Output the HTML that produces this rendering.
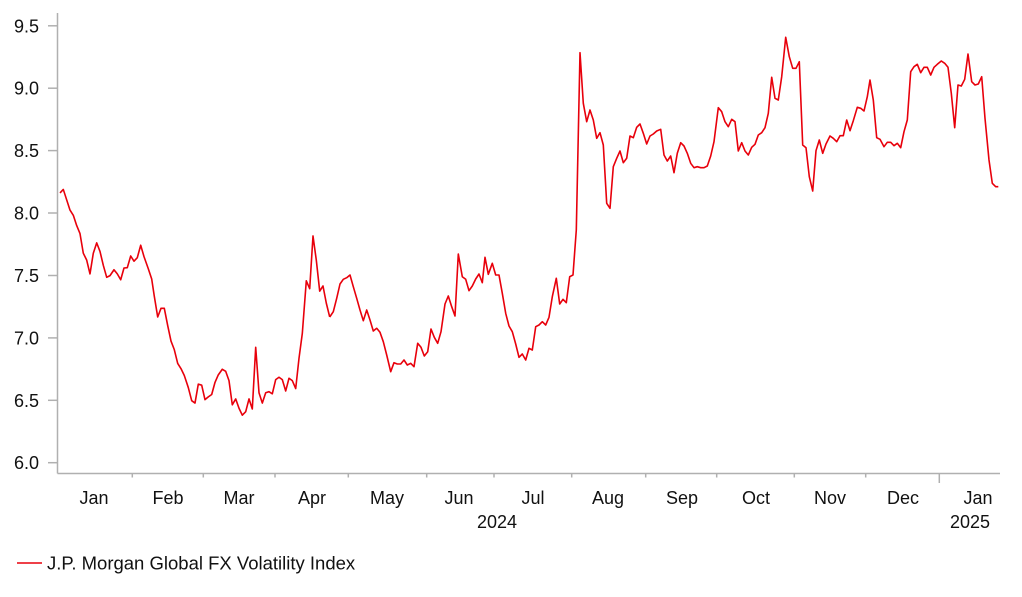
<!DOCTYPE html>
<html><head><meta charset="utf-8"><style>
html,body{margin:0;padding:0;background:#fff;}
svg{display:block;font-family:"Liberation Sans",Arial,sans-serif;}
</style></head><body>
<svg width="1022" height="597" viewBox="0 0 1022 597" xmlns="http://www.w3.org/2000/svg">
<g stroke="#b0b0b0" stroke-width="1.5" fill="none">
<line x1="57.5" y1="13" x2="57.5" y2="473.5"/>
<line x1="57.5" y1="473.5" x2="1000" y2="473.5"/>
<line x1="48" y1="25.8" x2="57" y2="25.8"/>
<line x1="48" y1="88.2" x2="57" y2="88.2"/>
<line x1="48" y1="150.6" x2="57" y2="150.6"/>
<line x1="48" y1="213" x2="57" y2="213"/>
<line x1="48" y1="275.5" x2="57" y2="275.5"/>
<line x1="48" y1="337.9" x2="57" y2="337.9"/>
<line x1="48" y1="400.3" x2="57" y2="400.3"/>
<line x1="48" y1="462.7" x2="57" y2="462.7"/>
<line x1="132.3" y1="473.5" x2="132.3" y2="477.5"/>
<line x1="203.3" y1="473.5" x2="203.3" y2="477.5"/>
<line x1="275" y1="473.5" x2="275" y2="477.5"/>
<line x1="348.3" y1="473.5" x2="348.3" y2="477.5"/>
<line x1="426.7" y1="473.5" x2="426.7" y2="477.5"/>
<line x1="494" y1="473.5" x2="494" y2="477.5"/>
<line x1="571.7" y1="473.5" x2="571.7" y2="477.5"/>
<line x1="645.7" y1="473.5" x2="645.7" y2="477.5"/>
<line x1="716.7" y1="473.5" x2="716.7" y2="477.5"/>
<line x1="794.3" y1="473.5" x2="794.3" y2="477.5"/>
<line x1="865.7" y1="473.5" x2="865.7" y2="477.5"/>
<line x1="939.3" y1="473.5" x2="939.3" y2="483"/>
</g>
<g font-size="18" fill="#111" text-anchor="end">
<text x="39" y="32.3">9.5</text>
<text x="39" y="94.7">9.0</text>
<text x="39" y="157.1">8.5</text>
<text x="39" y="219.5">8.0</text>
<text x="39" y="282">7.5</text>
<text x="39" y="344.4">7.0</text>
<text x="39" y="406.8">6.5</text>
<text x="39" y="469.2">6.0</text>
</g>
<g font-size="18" fill="#111" text-anchor="middle">
<text x="94" y="504">Jan</text>
<text x="168" y="504">Feb</text>
<text x="239" y="504">Mar</text>
<text x="312" y="504">Apr</text>
<text x="387" y="504">May</text>
<text x="459" y="504">Jun</text>
<text x="533" y="504">Jul</text>
<text x="608" y="504">Aug</text>
<text x="682" y="504">Sep</text>
<text x="756" y="504">Oct</text>
<text x="830" y="504">Nov</text>
<text x="903" y="504">Dec</text>
<text x="978" y="504">Jan</text>
<text x="497" y="528">2024</text>
<text x="970" y="528">2025</text>
</g>
<g transform="scale(1,1.0335)">
<polyline fill="none" stroke="#e8000b" stroke-width="1.6" stroke-linejoin="round" vector-effect="non-scaling-stroke" points="
60,186.7 63.3,183.3 70,203.3 73.3,208.3 76.7,218.3 80,226 83.3,245 86.7,251.7 90,265 93.3,245 96.7,235 100,243.3 103.3,256.7 106.7,268.3 110,266.7 114,261 117.3,265 120.7,270.7 124,259.3 127.3,259 130.7,247.7 134,252.7 137.3,249.3 140.7,237.3 144,248.3 148.3,260 151.7,270 154.3,286.7 157.7,306.7 161,298.3 164.3,298.3 167.7,315 171,330 174.3,338.3 177.7,351.7 181,356.7 184.3,363.3 188.3,375 191.7,387.7 195,390 198.3,371.7 201.7,372.7 205,386.7 208.3,384 211.7,381.7 215,370 218.3,362.7 222.3,357.3 225.7,359.3 229,368.3 232.3,391.7 235.7,386 239,395 242.3,401.7 245.7,398.3 249,386 252.3,395.7 255.7,336 259,380 262.3,390 265.7,380 269,379 272.3,381 275.7,367.3 279,365 282.3,367.3 285.7,378.3 289,366 292.3,368.3 295.7,376 299,346.7 302.3,322.7 306.3,271.7 309.7,279.3 313,228.3 316.3,251.7 319.7,281.7 323,276.7 326.3,293.3 329.7,306.7"/>
</g>
<polyline fill="none" stroke="#e8000b" stroke-width="1.6" stroke-linejoin="round" points="
329.7,317 333.3,311.7 336.7,298.3 340,284 343.3,279.3 346.7,277.7 350,275 353.3,286.7 356.7,298.3 360,310 363.3,320.7 366.7,310 370,320 373.3,331 376.7,328.3 380,332.3 383.3,341.7 386.7,355 390.7,371.7 394,362.7 397.3,364 400.7,364 404,360 407.3,365 410.7,363.3 414,366.7 417.7,343.3 421,347.3 424.3,356 427.7,351.7 431,329 434.3,337.3 437.7,343.3 441,331.7 445,304 448.3,296 451.7,306.7 455,316 458.3,254 462.3,276.7 465.7,279.3 469,290.7 472.3,286 475.7,279 479,274 482.3,282.7 485,257.3 488.3,274.3 492.3,263.3 495.7,275 499,275 502.3,293.3 505.7,313.3 509,326 512.3,331.7 515.7,344 519,357.3 522.3,354 525.7,360 529,348.3 532.3,350 535.7,326.7 539,325 542.3,321.7 545.7,325 549,317.3 552.3,296.7 556.3,278.3 559.7,304 563,299.3 566.3,302.7 569.7,276.7 573,275 576.3,230 580,52.7 583.3,103.3 586.7,121.7 590,110 593.3,120 596.7,138.3 600,132.7 603.3,145 606.7,203.3 610,208.3 613.3,166.7 616.7,158.3 620,151 623.3,162.7 626.7,158.3 630,136 633.3,137.7 636.7,127.3 640,124 643.3,133.3 646.7,144 650,136 653.3,134 656.7,131 660.7,129.3 664,155 667.3,161 670.7,156 674,172.7 677.3,153.3 680.7,142.7 684,146 687.3,153.3 690.7,163.3 694,167.7 697.3,166.7 700.7,167.7 704,167.7 707.3,166 710.7,156 714,141.7 718.3,107.7 721.7,111.7 725,121.7 728.3,126.7 731.7,119.3 735,121.7 738.3,151 741.7,142.7 745,151 748.3,155 751.7,147.3 755,144.3 758.3,135 761.7,132.7 765,127.7 768.3,113.3 771.7,77.3 775,98.3 778.3,100 781.7,76.7 785.7,37.3 789.3,56.7 792.7,68.3 796,68.3 799.3,61.7 802.7,145 806,147.7 809.3,176.7 812.7,191 816,150.7 819.3,140 822.7,153.3 826,144 830,136 833.3,138.3 836.7,141.7 840,135.7 843.3,135.7 846.7,120 850,130.7 853.3,120.7 857.3,107.3 860.7,108.3 864,111 867.3,96.7 870,80 873.3,100 876.7,137.7 880,139.3 884,146.7 887.3,142.3 890.7,142.3 894,145.7 897.3,143.3 900.7,147.7 904,131.7 907.3,120 910.7,71.7 914,66.7 917.3,64.3 920.7,72.7 924,67.3 927.3,67.3 930.7,75 934,67.3 937.3,64.3 941.3,61 944.7,63.3 948,67.3 951.3,93.3 954.7,127.7 958,85 961.3,86 964.7,79.3 968,54 971.7,81.7 975,85 978.3,84 981.7,76.7 985,118.3 989,160 992.3,183.3 995.7,186.7 998.3,186.7"/>
<line x1="17" y1="563" x2="42" y2="563" stroke="#e8000b" stroke-width="1.6"/>
<text x="47" y="569.5" font-size="18.5" fill="#111">J.P. Morgan Global FX Volatility Index</text>
</svg>
</body></html>
